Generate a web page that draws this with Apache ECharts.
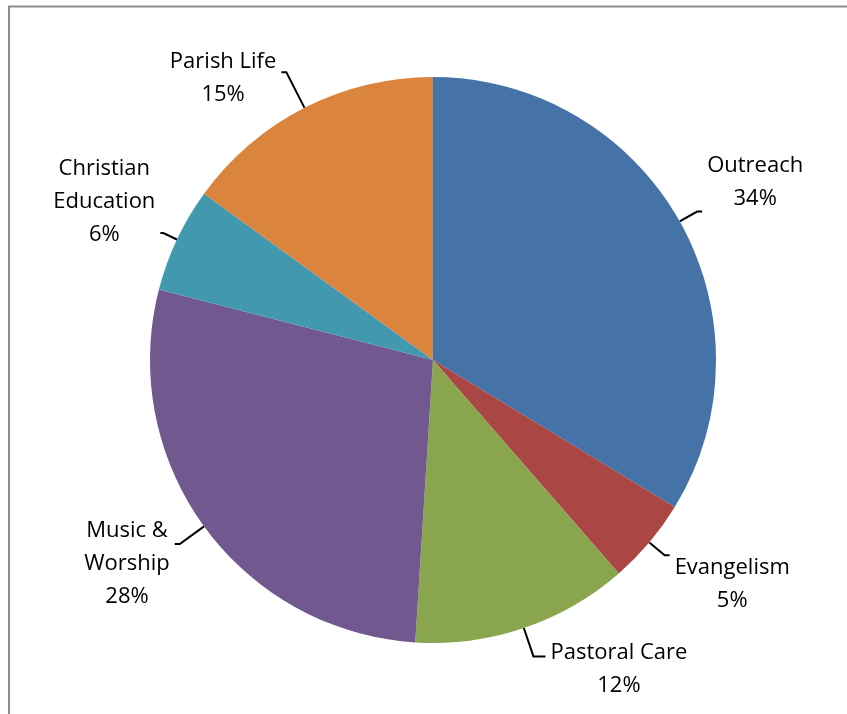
<!DOCTYPE html>
<html>
<head>
<meta charset="utf-8">
<script src="https://cdn.jsdelivr.net/npm/echarts@6/dist/echarts.min.js"></script>
<style>html,body{margin:0;padding:0;background:#fff;}#c{width:847px;height:714px;}</style>
</head>
<body>
<div id="c"></div>
<script>
const categories = ['Outreach', 'Evangelism', 'Pastoral Care', 'Music &\nWorship', 'Christian\nEducation', 'Parish Life'];
const values = [33.7, 4.9, 12.4, 28.0, 6.0, 15.0];
const colors = ['#4572A7', '#AA4643', '#89A54E', '#71588F', '#4198AF', '#DB843D'];
const labelPads = [[0,0,59,0],[58,0,0,0],[26,0,0,0],[40,0,0,0],[0,0,62,0],[12,0,0,0]];
const lineLens = [[20,5],[20,5],[30,12],[30,5],[15,3],[40,5]];

const chart = echarts.init(document.getElementById('c'));
chart.setOption({
  animation: false,
  backgroundColor: '#fff',
  graphic: [{
    type: 'rect', shape: {x: 9, y: 6.5, width: 900, height: 800},
    style: {fill: 'none', stroke: '#8c8c8c', lineWidth: 2}, silent: true
  }],
  series: [{
    type: 'pie',
    center: [433, 360],
    radius: 283,
    startAngle: 90,
    clockwise: true,
    percentPrecision: 0,
    avoidLabelOverlap: false,
    labelLayout: {hideOverlap: false},
    itemStyle: {borderWidth: 0},
    label: {
      show: true,
      position: 'outside',
      formatter: '{a|{b}\n{d}%}',
      color: '#000',
      fontFamily: 'Open Sans',
      fontSize: 22,
      lineHeight: 33,
      rich: {a: {align: 'center', fontFamily: 'Open Sans', fontSize: 22, lineHeight: 33, color: '#000'}}
    },
    labelLine: {show: true, length: 30, length2: 12, lineStyle: {color: '#000', width: 2}},
    data: categories.map((n, i) => ({
      name: n, value: values[i],
      itemStyle: {color: colors[i]},
      label: {padding: labelPads[i]},
      labelLine: {length: lineLens[i][0], length2: lineLens[i][1]}
    }))
  }]
});
</script>
</body>
</html>
